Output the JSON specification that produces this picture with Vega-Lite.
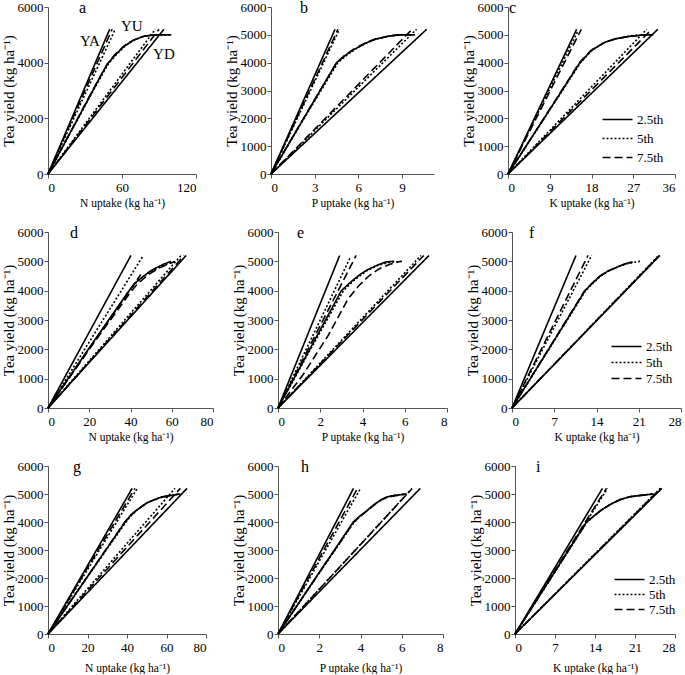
{
  "$schema": "https://vega.github.io/schema/vega-lite/v6.json",
  "padding": {"left": 1, "top": 0, "right": 0, "bottom": 0},
  "spacing": 16,
  "datasets": {
    "labels": [
      {"text": "YA", "x": 34, "y": 4780},
      {"text": "YU", "x": 68, "y": 5320},
      {"text": "YD", "x": 94, "y": 4310}
    ],
    "curves": [
      {"panel":"a","pct":"2.5th","curve":"YA","x":0,"y":0},{"panel":"a","pct":"2.5th","curve":"YA","x":50,"y":5200},
      {"panel":"a","pct":"5th","curve":"YA","x":0,"y":0},{"panel":"a","pct":"5th","curve":"YA","x":54,"y":5150},
      {"panel":"a","pct":"7.5th","curve":"YA","x":0,"y":0},{"panel":"a","pct":"7.5th","curve":"YA","x":52,"y":5200},
      {"panel":"a","pct":"2.5th","curve":"YD","x":0,"y":0},{"panel":"a","pct":"2.5th","curve":"YD","x":94,"y":5200},
      {"panel":"a","pct":"5th","curve":"YD","x":0,"y":0},{"panel":"a","pct":"5th","curve":"YD","x":87,"y":5200},
      {"panel":"a","pct":"7.5th","curve":"YD","x":0,"y":0},{"panel":"a","pct":"7.5th","curve":"YD","x":90,"y":5200},
      {"panel":"a","pct":"2.5th","curve":"YU","x":0,"y":0},{"panel":"a","pct":"2.5th","curve":"YU","x":20,"y":1650},{"panel":"a","pct":"2.5th","curve":"YU","x":40,"y":3300},{"panel":"a","pct":"2.5th","curve":"YU","x":48,"y":3950},{"panel":"a","pct":"2.5th","curve":"YU","x":55,"y":4300},{"panel":"a","pct":"2.5th","curve":"YU","x":62,"y":4600},{"panel":"a","pct":"2.5th","curve":"YU","x":70,"y":4820},{"panel":"a","pct":"2.5th","curve":"YU","x":78,"y":4950},{"panel":"a","pct":"2.5th","curve":"YU","x":86,"y":5000},{"panel":"a","pct":"2.5th","curve":"YU","x":100,"y":5000},
      {"panel":"a","pct":"5th","curve":"YU","x":0,"y":0},{"panel":"a","pct":"5th","curve":"YU","x":20,"y":1630},{"panel":"a","pct":"5th","curve":"YU","x":40,"y":3260},{"panel":"a","pct":"5th","curve":"YU","x":49,"y":3960},{"panel":"a","pct":"5th","curve":"YU","x":56,"y":4320},{"panel":"a","pct":"5th","curve":"YU","x":63,"y":4620},{"panel":"a","pct":"5th","curve":"YU","x":71,"y":4840},{"panel":"a","pct":"5th","curve":"YU","x":79,"y":4960},{"panel":"a","pct":"5th","curve":"YU","x":88,"y":5000},{"panel":"a","pct":"5th","curve":"YU","x":98,"y":5000},
      {"panel":"a","pct":"7.5th","curve":"YU","x":0,"y":0},{"panel":"a","pct":"7.5th","curve":"YU","x":20,"y":1660},{"panel":"a","pct":"7.5th","curve":"YU","x":40,"y":3320},{"panel":"a","pct":"7.5th","curve":"YU","x":48,"y":3940},{"panel":"a","pct":"7.5th","curve":"YU","x":54,"y":4280},{"panel":"a","pct":"7.5th","curve":"YU","x":61,"y":4580},{"panel":"a","pct":"7.5th","curve":"YU","x":69,"y":4810},{"panel":"a","pct":"7.5th","curve":"YU","x":77,"y":4940},{"panel":"a","pct":"7.5th","curve":"YU","x":85,"y":4990},{"panel":"a","pct":"7.5th","curve":"YU","x":96,"y":5000},

      {"panel":"b","pct":"2.5th","curve":"YA","x":0,"y":0},{"panel":"b","pct":"2.5th","curve":"YA","x":4.4,"y":5200},
      {"panel":"b","pct":"5th","curve":"YA","x":0,"y":0},{"panel":"b","pct":"5th","curve":"YA","x":4.7,"y":5200},
      {"panel":"b","pct":"7.5th","curve":"YA","x":0,"y":0},{"panel":"b","pct":"7.5th","curve":"YA","x":4.6,"y":5200},
      {"panel":"b","pct":"2.5th","curve":"YD","x":0,"y":0},{"panel":"b","pct":"2.5th","curve":"YD","x":10.7,"y":5200},
      {"panel":"b","pct":"5th","curve":"YD","x":0,"y":0},{"panel":"b","pct":"5th","curve":"YD","x":10.0,"y":5200},
      {"panel":"b","pct":"7.5th","curve":"YD","x":0,"y":0},{"panel":"b","pct":"7.5th","curve":"YD","x":9.7,"y":5200},
      {"panel":"b","pct":"2.5th","curve":"YU","x":0,"y":0},{"panel":"b","pct":"2.5th","curve":"YU","x":2,"y":1780},{"panel":"b","pct":"2.5th","curve":"YU","x":4.5,"y":4000},{"panel":"b","pct":"2.5th","curve":"YU","x":5.2,"y":4300},{"panel":"b","pct":"2.5th","curve":"YU","x":5.8,"y":4500},{"panel":"b","pct":"2.5th","curve":"YU","x":6.5,"y":4700},{"panel":"b","pct":"2.5th","curve":"YU","x":7.2,"y":4850},{"panel":"b","pct":"2.5th","curve":"YU","x":8.1,"y":4950},{"panel":"b","pct":"2.5th","curve":"YU","x":8.8,"y":5000},{"panel":"b","pct":"2.5th","curve":"YU","x":9.9,"y":5000},
      {"panel":"b","pct":"5th","curve":"YU","x":0,"y":0},{"panel":"b","pct":"5th","curve":"YU","x":2,"y":1760},{"panel":"b","pct":"5th","curve":"YU","x":4.6,"y":4000},{"panel":"b","pct":"5th","curve":"YU","x":5.3,"y":4310},{"panel":"b","pct":"5th","curve":"YU","x":5.9,"y":4520},{"panel":"b","pct":"5th","curve":"YU","x":6.6,"y":4720},{"panel":"b","pct":"5th","curve":"YU","x":7.3,"y":4860},{"panel":"b","pct":"5th","curve":"YU","x":8.2,"y":4960},{"panel":"b","pct":"5th","curve":"YU","x":9.0,"y":5000},{"panel":"b","pct":"5th","curve":"YU","x":9.6,"y":5000},
      {"panel":"b","pct":"7.5th","curve":"YU","x":0,"y":0},{"panel":"b","pct":"7.5th","curve":"YU","x":2,"y":1790},{"panel":"b","pct":"7.5th","curve":"YU","x":4.5,"y":3990},{"panel":"b","pct":"7.5th","curve":"YU","x":5.1,"y":4280},{"panel":"b","pct":"7.5th","curve":"YU","x":5.7,"y":4490},{"panel":"b","pct":"7.5th","curve":"YU","x":6.4,"y":4690},{"panel":"b","pct":"7.5th","curve":"YU","x":7.1,"y":4840},{"panel":"b","pct":"7.5th","curve":"YU","x":8.0,"y":4950},{"panel":"b","pct":"7.5th","curve":"YU","x":8.7,"y":5000},{"panel":"b","pct":"7.5th","curve":"YU","x":9.4,"y":5000},

      {"panel":"c","pct":"2.5th","curve":"YA","x":0,"y":0},{"panel":"c","pct":"2.5th","curve":"YA","x":14.8,"y":5200},
      {"panel":"c","pct":"5th","curve":"YA","x":0,"y":0},{"panel":"c","pct":"5th","curve":"YA","x":15.1,"y":5150},
      {"panel":"c","pct":"7.5th","curve":"YA","x":0,"y":0},{"panel":"c","pct":"7.5th","curve":"YA","x":15.8,"y":5200},
      {"panel":"c","pct":"2.5th","curve":"YD","x":0,"y":0},{"panel":"c","pct":"2.5th","curve":"YD","x":32.3,"y":5200},
      {"panel":"c","pct":"5th","curve":"YD","x":0,"y":0},{"panel":"c","pct":"5th","curve":"YD","x":29.9,"y":5200},
      {"panel":"c","pct":"7.5th","curve":"YD","x":0,"y":0},{"panel":"c","pct":"7.5th","curve":"YD","x":31.0,"y":5200},
      {"panel":"c","pct":"2.5th","curve":"YU","x":0,"y":0},{"panel":"c","pct":"2.5th","curve":"YU","x":8,"y":2060},{"panel":"c","pct":"2.5th","curve":"YU","x":15.5,"y":4000},{"panel":"c","pct":"2.5th","curve":"YU","x":18,"y":4450},{"panel":"c","pct":"2.5th","curve":"YU","x":20.9,"y":4730},{"panel":"c","pct":"2.5th","curve":"YU","x":23,"y":4850},{"panel":"c","pct":"2.5th","curve":"YU","x":26.6,"y":4960},{"panel":"c","pct":"2.5th","curve":"YU","x":30.2,"y":5000},{"panel":"c","pct":"2.5th","curve":"YU","x":31.3,"y":5000},
      {"panel":"c","pct":"5th","curve":"YU","x":0,"y":0},{"panel":"c","pct":"5th","curve":"YU","x":8,"y":2040},{"panel":"c","pct":"5th","curve":"YU","x":15.6,"y":3990},{"panel":"c","pct":"5th","curve":"YU","x":18.2,"y":4460},{"panel":"c","pct":"5th","curve":"YU","x":21,"y":4740},{"panel":"c","pct":"5th","curve":"YU","x":23.2,"y":4860},{"panel":"c","pct":"5th","curve":"YU","x":26.8,"y":4970},{"panel":"c","pct":"5th","curve":"YU","x":30,"y":5000},
      {"panel":"c","pct":"7.5th","curve":"YU","x":0,"y":0},{"panel":"c","pct":"7.5th","curve":"YU","x":8,"y":2070},{"panel":"c","pct":"7.5th","curve":"YU","x":15.4,"y":4000},{"panel":"c","pct":"7.5th","curve":"YU","x":17.9,"y":4440},{"panel":"c","pct":"7.5th","curve":"YU","x":20.7,"y":4720},{"panel":"c","pct":"7.5th","curve":"YU","x":22.8,"y":4840},{"panel":"c","pct":"7.5th","curve":"YU","x":26.4,"y":4950},{"panel":"c","pct":"7.5th","curve":"YU","x":29.6,"y":5000},

      {"panel":"d","pct":"2.5th","curve":"YA","x":0,"y":0},{"panel":"d","pct":"2.5th","curve":"YA","x":40.2,"y":5200},
      {"panel":"d","pct":"5th","curve":"YA","x":0,"y":0},{"panel":"d","pct":"5th","curve":"YA","x":46.2,"y":5200},
      {"panel":"d","pct":"7.5th","curve":"YA","x":0,"y":0},{"panel":"d","pct":"7.5th","curve":"YA","x":45,"y":4550},
      {"panel":"d","pct":"2.5th","curve":"YD","x":0,"y":0},{"panel":"d","pct":"2.5th","curve":"YD","x":67,"y":5200},
      {"panel":"d","pct":"5th","curve":"YD","x":0,"y":0},{"panel":"d","pct":"5th","curve":"YD","x":64.5,"y":5200},
      {"panel":"d","pct":"7.5th","curve":"YD","x":0,"y":0},{"panel":"d","pct":"7.5th","curve":"YD","x":66,"y":5200},
      {"panel":"d","pct":"2.5th","curve":"YU","x":0,"y":0},{"panel":"d","pct":"2.5th","curve":"YU","x":20,"y":2050},{"panel":"d","pct":"2.5th","curve":"YU","x":38.8,"y":3950},{"panel":"d","pct":"2.5th","curve":"YU","x":42,"y":4250},{"panel":"d","pct":"2.5th","curve":"YU","x":45.2,"y":4430},{"panel":"d","pct":"2.5th","curve":"YU","x":49,"y":4640},{"panel":"d","pct":"2.5th","curve":"YU","x":52.2,"y":4770},{"panel":"d","pct":"2.5th","curve":"YU","x":56,"y":4900},{"panel":"d","pct":"2.5th","curve":"YU","x":59.6,"y":5000},
      {"panel":"d","pct":"5th","curve":"YU","x":0,"y":0},{"panel":"d","pct":"5th","curve":"YU","x":20,"y":2030},{"panel":"d","pct":"5th","curve":"YU","x":39,"y":3950},{"panel":"d","pct":"5th","curve":"YU","x":42.5,"y":4260},{"panel":"d","pct":"5th","curve":"YU","x":46,"y":4460},{"panel":"d","pct":"5th","curve":"YU","x":50,"y":4660},{"panel":"d","pct":"5th","curve":"YU","x":54,"y":4800},{"panel":"d","pct":"5th","curve":"YU","x":58,"y":4920},{"panel":"d","pct":"5th","curve":"YU","x":62,"y":5000},
      {"panel":"d","pct":"7.5th","curve":"YU","x":0,"y":0},{"panel":"d","pct":"7.5th","curve":"YU","x":20,"y":2000},{"panel":"d","pct":"7.5th","curve":"YU","x":39.5,"y":3900},{"panel":"d","pct":"7.5th","curve":"YU","x":43,"y":4200},{"panel":"d","pct":"7.5th","curve":"YU","x":46.5,"y":4420},{"panel":"d","pct":"7.5th","curve":"YU","x":50.5,"y":4630},{"panel":"d","pct":"7.5th","curve":"YU","x":54.5,"y":4790},{"panel":"d","pct":"7.5th","curve":"YU","x":58.5,"y":4910},{"panel":"d","pct":"7.5th","curve":"YU","x":61,"y":4980},

      {"panel":"e","pct":"2.5th","curve":"YA","x":0,"y":0},{"panel":"e","pct":"2.5th","curve":"YA","x":2.92,"y":5200},
      {"panel":"e","pct":"5th","curve":"YA","x":0,"y":0},{"panel":"e","pct":"5th","curve":"YA","x":3.4,"y":5100},
      {"panel":"e","pct":"7.5th","curve":"YA","x":0,"y":0},{"panel":"e","pct":"7.5th","curve":"YA","x":3.7,"y":5200},
      {"panel":"e","pct":"2.5th","curve":"YD","x":0,"y":0},{"panel":"e","pct":"2.5th","curve":"YD","x":7.15,"y":5200},
      {"panel":"e","pct":"5th","curve":"YD","x":0,"y":0},{"panel":"e","pct":"5th","curve":"YD","x":6.77,"y":5200},
      {"panel":"e","pct":"7.5th","curve":"YD","x":0,"y":0},{"panel":"e","pct":"7.5th","curve":"YD","x":6.9,"y":5200},
      {"panel":"e","pct":"2.5th","curve":"YU","x":0,"y":0},{"panel":"e","pct":"2.5th","curve":"YU","x":1.5,"y":2000},{"panel":"e","pct":"2.5th","curve":"YU","x":3.0,"y":4000},{"panel":"e","pct":"2.5th","curve":"YU","x":3.3,"y":4200},{"panel":"e","pct":"2.5th","curve":"YU","x":3.55,"y":4360},{"panel":"e","pct":"2.5th","curve":"YU","x":3.9,"y":4560},{"panel":"e","pct":"2.5th","curve":"YU","x":4.2,"y":4700},{"panel":"e","pct":"2.5th","curve":"YU","x":4.7,"y":4870},{"panel":"e","pct":"2.5th","curve":"YU","x":5.1,"y":4980},{"panel":"e","pct":"2.5th","curve":"YU","x":5.5,"y":5000},
      {"panel":"e","pct":"5th","curve":"YU","x":0,"y":0},{"panel":"e","pct":"5th","curve":"YU","x":1.5,"y":1950},{"panel":"e","pct":"5th","curve":"YU","x":3.1,"y":4000},{"panel":"e","pct":"5th","curve":"YU","x":3.6,"y":4350},{"panel":"e","pct":"5th","curve":"YU","x":4.2,"y":4680},{"panel":"e","pct":"5th","curve":"YU","x":4.8,"y":4880},{"panel":"e","pct":"5th","curve":"YU","x":5.3,"y":4970},{"panel":"e","pct":"5th","curve":"YU","x":5.9,"y":5000},
      {"panel":"e","pct":"7.5th","curve":"YU","x":0,"y":0},{"panel":"e","pct":"7.5th","curve":"YU","x":1.2,"y":1150},{"panel":"e","pct":"7.5th","curve":"YU","x":2.4,"y":2500},{"panel":"e","pct":"7.5th","curve":"YU","x":3.3,"y":3700},{"panel":"e","pct":"7.5th","curve":"YU","x":3.8,"y":4150},{"panel":"e","pct":"7.5th","curve":"YU","x":4.3,"y":4500},{"panel":"e","pct":"7.5th","curve":"YU","x":4.8,"y":4750},{"panel":"e","pct":"7.5th","curve":"YU","x":5.3,"y":4900},{"panel":"e","pct":"7.5th","curve":"YU","x":5.8,"y":5000},

      {"panel":"f","pct":"2.5th","curve":"YA","x":0,"y":0},{"panel":"f","pct":"2.5th","curve":"YA","x":10.6,"y":5200},
      {"panel":"f","pct":"5th","curve":"YA","x":0,"y":0},{"panel":"f","pct":"5th","curve":"YA","x":13.2,"y":5200},
      {"panel":"f","pct":"7.5th","curve":"YA","x":0,"y":0},{"panel":"f","pct":"7.5th","curve":"YA","x":12.6,"y":5200},
      {"panel":"f","pct":"2.5th","curve":"YD","x":0,"y":0},{"panel":"f","pct":"2.5th","curve":"YD","x":24.5,"y":5200},
      {"panel":"f","pct":"5th","curve":"YD","x":0,"y":0},{"panel":"f","pct":"5th","curve":"YD","x":24.3,"y":5200},
      {"panel":"f","pct":"7.5th","curve":"YD","x":0,"y":0},{"panel":"f","pct":"7.5th","curve":"YD","x":24.4,"y":5200},
      {"panel":"f","pct":"2.5th","curve":"YU","x":0,"y":0},{"panel":"f","pct":"2.5th","curve":"YU","x":6,"y":1980},{"panel":"f","pct":"2.5th","curve":"YU","x":12.1,"y":4000},{"panel":"f","pct":"2.5th","curve":"YU","x":13.3,"y":4250},{"panel":"f","pct":"2.5th","curve":"YU","x":14.6,"y":4500},{"panel":"f","pct":"2.5th","curve":"YU","x":16,"y":4680},{"panel":"f","pct":"2.5th","curve":"YU","x":17.6,"y":4820},{"panel":"f","pct":"2.5th","curve":"YU","x":18.8,"y":4920},{"panel":"f","pct":"2.5th","curve":"YU","x":20,"y":4980},
      {"panel":"f","pct":"5th","curve":"YU","x":0,"y":0},{"panel":"f","pct":"5th","curve":"YU","x":6,"y":1960},{"panel":"f","pct":"5th","curve":"YU","x":12.2,"y":4000},{"panel":"f","pct":"5th","curve":"YU","x":13.5,"y":4270},{"panel":"f","pct":"5th","curve":"YU","x":14.8,"y":4520},{"panel":"f","pct":"5th","curve":"YU","x":16.3,"y":4700},{"panel":"f","pct":"5th","curve":"YU","x":17.9,"y":4840},{"panel":"f","pct":"5th","curve":"YU","x":19.5,"y":4940},{"panel":"f","pct":"5th","curve":"YU","x":21.2,"y":5000},
      {"panel":"f","pct":"7.5th","curve":"YU","x":0,"y":0},{"panel":"f","pct":"7.5th","curve":"YU","x":6,"y":1990},{"panel":"f","pct":"7.5th","curve":"YU","x":12,"y":3990},{"panel":"f","pct":"7.5th","curve":"YU","x":13.2,"y":4240},{"panel":"f","pct":"7.5th","curve":"YU","x":14.5,"y":4490},{"panel":"f","pct":"7.5th","curve":"YU","x":15.9,"y":4670},{"panel":"f","pct":"7.5th","curve":"YU","x":17.5,"y":4810},{"panel":"f","pct":"7.5th","curve":"YU","x":18.7,"y":4910},{"panel":"f","pct":"7.5th","curve":"YU","x":19.8,"y":4960},

      {"panel":"g","pct":"2.5th","curve":"YA","x":0,"y":0},{"panel":"g","pct":"2.5th","curve":"YA","x":42.6,"y":5200},
      {"panel":"g","pct":"5th","curve":"YA","x":0,"y":0},{"panel":"g","pct":"5th","curve":"YA","x":45.2,"y":5200},
      {"panel":"g","pct":"7.5th","curve":"YA","x":0,"y":0},{"panel":"g","pct":"7.5th","curve":"YA","x":44,"y":5200},
      {"panel":"g","pct":"2.5th","curve":"YD","x":0,"y":0},{"panel":"g","pct":"2.5th","curve":"YD","x":70.4,"y":5200},
      {"panel":"g","pct":"5th","curve":"YD","x":0,"y":0},{"panel":"g","pct":"5th","curve":"YD","x":64.3,"y":5200},
      {"panel":"g","pct":"7.5th","curve":"YD","x":0,"y":0},{"panel":"g","pct":"7.5th","curve":"YD","x":67,"y":5200},
      {"panel":"g","pct":"2.5th","curve":"YU","x":0,"y":0},{"panel":"g","pct":"2.5th","curve":"YU","x":20,"y":2050},{"panel":"g","pct":"2.5th","curve":"YU","x":39,"y":4000},{"panel":"g","pct":"2.5th","curve":"YU","x":42,"y":4250},{"panel":"g","pct":"2.5th","curve":"YU","x":45,"y":4430},{"panel":"g","pct":"2.5th","curve":"YU","x":50,"y":4680},{"panel":"g","pct":"2.5th","curve":"YU","x":54,"y":4800},{"panel":"g","pct":"2.5th","curve":"YU","x":58,"y":4900},{"panel":"g","pct":"2.5th","curve":"YU","x":62.6,"y":4950},{"panel":"g","pct":"2.5th","curve":"YU","x":67,"y":5000},
      {"panel":"g","pct":"5th","curve":"YU","x":0,"y":0},{"panel":"g","pct":"5th","curve":"YU","x":20,"y":2040},{"panel":"g","pct":"5th","curve":"YU","x":39.5,"y":4000},{"panel":"g","pct":"5th","curve":"YU","x":42.5,"y":4260},{"panel":"g","pct":"5th","curve":"YU","x":45.5,"y":4450},{"panel":"g","pct":"5th","curve":"YU","x":50.5,"y":4700},{"panel":"g","pct":"5th","curve":"YU","x":54.5,"y":4820},{"panel":"g","pct":"5th","curve":"YU","x":58.5,"y":4910},{"panel":"g","pct":"5th","curve":"YU","x":63,"y":4960},{"panel":"g","pct":"5th","curve":"YU","x":66,"y":5000},
      {"panel":"g","pct":"7.5th","curve":"YU","x":0,"y":0},{"panel":"g","pct":"7.5th","curve":"YU","x":20,"y":2060},{"panel":"g","pct":"7.5th","curve":"YU","x":38.8,"y":3990},{"panel":"g","pct":"7.5th","curve":"YU","x":41.8,"y":4240},{"panel":"g","pct":"7.5th","curve":"YU","x":44.8,"y":4420},{"panel":"g","pct":"7.5th","curve":"YU","x":49.8,"y":4670},{"panel":"g","pct":"7.5th","curve":"YU","x":53.8,"y":4790},{"panel":"g","pct":"7.5th","curve":"YU","x":57.8,"y":4890},{"panel":"g","pct":"7.5th","curve":"YU","x":62.4,"y":4940},{"panel":"g","pct":"7.5th","curve":"YU","x":65,"y":4980},

      {"panel":"h","pct":"2.5th","curve":"YA","x":0,"y":0},{"panel":"h","pct":"2.5th","curve":"YA","x":3.66,"y":5200},
      {"panel":"h","pct":"5th","curve":"YA","x":0,"y":0},{"panel":"h","pct":"5th","curve":"YA","x":4.0,"y":5200},
      {"panel":"h","pct":"7.5th","curve":"YA","x":0,"y":0},{"panel":"h","pct":"7.5th","curve":"YA","x":3.85,"y":5200},
      {"panel":"h","pct":"2.5th","curve":"YD","x":0,"y":0},{"panel":"h","pct":"2.5th","curve":"YD","x":6.9,"y":5200},
      {"panel":"h","pct":"5th","curve":"YD","x":0,"y":0},{"panel":"h","pct":"5th","curve":"YD","x":6.5,"y":5200},
      {"panel":"h","pct":"7.5th","curve":"YD","x":0,"y":0},{"panel":"h","pct":"7.5th","curve":"YD","x":6.45,"y":5150},
      {"panel":"h","pct":"2.5th","curve":"YU","x":0,"y":0},{"panel":"h","pct":"2.5th","curve":"YU","x":2,"y":2200},{"panel":"h","pct":"2.5th","curve":"YU","x":3.65,"y":4000},{"panel":"h","pct":"2.5th","curve":"YU","x":3.95,"y":4200},{"panel":"h","pct":"2.5th","curve":"YU","x":4.3,"y":4400},{"panel":"h","pct":"2.5th","curve":"YU","x":4.65,"y":4620},{"panel":"h","pct":"2.5th","curve":"YU","x":5.0,"y":4800},{"panel":"h","pct":"2.5th","curve":"YU","x":5.3,"y":4900},{"panel":"h","pct":"2.5th","curve":"YU","x":5.67,"y":4950},{"panel":"h","pct":"2.5th","curve":"YU","x":6.25,"y":5000},
      {"panel":"h","pct":"5th","curve":"YU","x":0,"y":0},{"panel":"h","pct":"5th","curve":"YU","x":2,"y":2180},{"panel":"h","pct":"5th","curve":"YU","x":3.7,"y":4000},{"panel":"h","pct":"5th","curve":"YU","x":4.0,"y":4210},{"panel":"h","pct":"5th","curve":"YU","x":4.35,"y":4420},{"panel":"h","pct":"5th","curve":"YU","x":4.7,"y":4640},{"panel":"h","pct":"5th","curve":"YU","x":5.05,"y":4810},{"panel":"h","pct":"5th","curve":"YU","x":5.35,"y":4910},{"panel":"h","pct":"5th","curve":"YU","x":5.7,"y":4960},{"panel":"h","pct":"5th","curve":"YU","x":6.1,"y":5000},
      {"panel":"h","pct":"7.5th","curve":"YU","x":0,"y":0},{"panel":"h","pct":"7.5th","curve":"YU","x":2,"y":2190},{"panel":"h","pct":"7.5th","curve":"YU","x":3.67,"y":3990},{"panel":"h","pct":"7.5th","curve":"YU","x":3.97,"y":4190},{"panel":"h","pct":"7.5th","curve":"YU","x":4.32,"y":4400},{"panel":"h","pct":"7.5th","curve":"YU","x":4.67,"y":4610},{"panel":"h","pct":"7.5th","curve":"YU","x":5.02,"y":4790},{"panel":"h","pct":"7.5th","curve":"YU","x":5.32,"y":4890},{"panel":"h","pct":"7.5th","curve":"YU","x":5.7,"y":4940},{"panel":"h","pct":"7.5th","curve":"YU","x":6.2,"y":4990},

      {"panel":"i","pct":"2.5th","curve":"YA","x":0,"y":0},{"panel":"i","pct":"2.5th","curve":"YA","x":15.3,"y":5200},
      {"panel":"i","pct":"5th","curve":"YA","x":0,"y":0},{"panel":"i","pct":"5th","curve":"YA","x":16.2,"y":5200},
      {"panel":"i","pct":"7.5th","curve":"YA","x":0,"y":0},{"panel":"i","pct":"7.5th","curve":"YA","x":16.0,"y":5200},
      {"panel":"i","pct":"2.5th","curve":"YD","x":0,"y":0},{"panel":"i","pct":"2.5th","curve":"YD","x":25.7,"y":5200},
      {"panel":"i","pct":"5th","curve":"YD","x":0,"y":0},{"panel":"i","pct":"5th","curve":"YD","x":25.4,"y":5200},
      {"panel":"i","pct":"7.5th","curve":"YD","x":0,"y":0},{"panel":"i","pct":"7.5th","curve":"YD","x":25.5,"y":5200},
      {"panel":"i","pct":"2.5th","curve":"YU","x":0,"y":0},{"panel":"i","pct":"2.5th","curve":"YU","x":6,"y":1920},{"panel":"i","pct":"2.5th","curve":"YU","x":12.5,"y":4000},{"panel":"i","pct":"2.5th","curve":"YU","x":13.7,"y":4200},{"panel":"i","pct":"2.5th","curve":"YU","x":14.9,"y":4400},{"panel":"i","pct":"2.5th","curve":"YU","x":16.6,"y":4620},{"panel":"i","pct":"2.5th","curve":"YU","x":18.4,"y":4800},{"panel":"i","pct":"2.5th","curve":"YU","x":20.1,"y":4900},{"panel":"i","pct":"2.5th","curve":"YU","x":22,"y":4950},{"panel":"i","pct":"2.5th","curve":"YU","x":24.2,"y":5000},
      {"panel":"i","pct":"5th","curve":"YU","x":0,"y":0},{"panel":"i","pct":"5th","curve":"YU","x":6,"y":1900},{"panel":"i","pct":"5th","curve":"YU","x":12.6,"y":4000},{"panel":"i","pct":"5th","curve":"YU","x":13.8,"y":4210},{"panel":"i","pct":"5th","curve":"YU","x":15,"y":4410},{"panel":"i","pct":"5th","curve":"YU","x":16.7,"y":4630},{"panel":"i","pct":"5th","curve":"YU","x":18.5,"y":4810},{"panel":"i","pct":"5th","curve":"YU","x":20.2,"y":4910},{"panel":"i","pct":"5th","curve":"YU","x":22.2,"y":4960},{"panel":"i","pct":"5th","curve":"YU","x":24,"y":5000},
      {"panel":"i","pct":"7.5th","curve":"YU","x":0,"y":0},{"panel":"i","pct":"7.5th","curve":"YU","x":6,"y":1910},{"panel":"i","pct":"7.5th","curve":"YU","x":12.55,"y":4000},{"panel":"i","pct":"7.5th","curve":"YU","x":13.75,"y":4200},{"panel":"i","pct":"7.5th","curve":"YU","x":14.95,"y":4400},{"panel":"i","pct":"7.5th","curve":"YU","x":16.65,"y":4620},{"panel":"i","pct":"7.5th","curve":"YU","x":18.45,"y":4800},{"panel":"i","pct":"7.5th","curve":"YU","x":20.15,"y":4900},{"panel":"i","pct":"7.5th","curve":"YU","x":22.1,"y":4950},{"panel":"i","pct":"7.5th","curve":"YU","x":24.1,"y":4990}
    ]
  },
  "resolve": {"scale": {"strokeDash": "independent"}, "legend": {"strokeDash": "independent"}},
  "vconcat": [
    {
      "spacing": 27,
      "resolve": {"scale": {"strokeDash": "independent"}, "legend": {"strokeDash": "independent"}},
      "hconcat": [
        {
          "width": 148, "height": 167,
          "title": {"text": "a", "dx": 31},
          "layer": [
            {
              "data": {"name": "curves"},
              "transform": [{"filter": "datum.panel === 'a'"}],
              "mark": "line",
              "encoding": {
                "x": {"field": "x", "type": "quantitative", "scale": {"domain": [0, 120], "nice": false}, "axis": {"values": [0, 30, 60, 90, 120], "title": "N uptake (kg ha⁻¹)"}},
                "y": {"field": "y", "type": "quantitative", "scale": {"domain": [0, 6000], "nice": false}, "axis": {"values": [0, 1000, 2000, 3000, 4000, 5000, 6000], "title": "Tea yield (kg ha⁻¹)"}},
                "strokeDash": {"field": "pct", "type": "nominal", "scale": {"domain": ["2.5th", "5th", "7.5th"], "range": [[1, 0], [2, 2], [8, 4]]}, "legend": null},
                "detail": {"field": "curve"}
              }
            },
            {
              "data": {"name": "labels"},
              "mark": {"type": "text", "fontSize": 15, "font": "Liberation Serif", "color": "#000"},
              "encoding": {
                "x": {"field": "x", "type": "quantitative"},
                "y": {"field": "y", "type": "quantitative"},
                "text": {"field": "text"}
              }
            }
          ]
        },
        {
          "width": 163, "height": 167,
          "title": {"text": "b", "dx": 29},
          "data": {"name": "curves"},
          "transform": [{"filter": "datum.panel === 'b'"}],
          "mark": "line",
          "encoding": {
            "x": {"field": "x", "type": "quantitative", "scale": {"domain": [0, 11.2], "nice": false}, "axis": {"values": [0, 3, 6, 9], "title": "P uptake (kg ha⁻¹)"}},
            "y": {"field": "y", "type": "quantitative", "scale": {"domain": [0, 6000], "nice": false}, "axis": {"values": [0, 1000, 2000, 3000, 4000, 5000, 6000], "title": "Tea yield (kg ha⁻¹)"}},
            "strokeDash": {"field": "pct", "type": "nominal", "scale": {"domain": ["2.5th", "5th", "7.5th"], "range": [[1, 0], [2, 2], [8, 4]]}, "legend": null},
            "detail": {"field": "curve"}
          }
        },
        {
          "width": 167, "height": 167,
          "title": {"text": "c", "dx": 1},
          "data": {"name": "curves"},
          "transform": [{"filter": "datum.panel === 'c'"}],
          "mark": "line",
          "encoding": {
            "x": {"field": "x", "type": "quantitative", "scale": {"domain": [0, 36], "nice": false}, "axis": {"values": [0, 9, 18, 27, 36], "title": "K uptake (kg ha⁻¹)"}},
            "y": {"field": "y", "type": "quantitative", "scale": {"domain": [0, 6000], "nice": false}, "axis": {"values": [0, 1000, 2000, 3000, 4000, 5000, 6000], "title": "Tea yield (kg ha⁻¹)"}},
            "strokeDash": {"field": "pct", "type": "nominal", "scale": {"domain": ["2.5th", "5th", "7.5th"], "range": [[1, 0], [2, 2], [8, 4]]}, "legend": {"title": null, "orient": "none", "legendX": 103, "legendY": 106, "rowPadding": 5}},
            "detail": {"field": "curve"}
          }
        }
      ]
    },
    {
      "spacing": 17,
      "resolve": {"scale": {"strokeDash": "independent"}, "legend": {"strokeDash": "independent"}},
      "hconcat": [
        {
          "width": 165, "height": 176,
          "title": {"text": "d", "dx": 22},
          "data": {"name": "curves"},
          "transform": [{"filter": "datum.panel === 'd'"}],
          "mark": "line",
          "encoding": {
            "x": {"field": "x", "type": "quantitative", "scale": {"domain": [0, 80], "nice": false}, "axis": {"values": [0, 20, 40, 60, 80], "title": "N uptake (kg ha⁻¹)"}},
            "y": {"field": "y", "type": "quantitative", "scale": {"domain": [0, 6000], "nice": false}, "axis": {"values": [0, 1000, 2000, 3000, 4000, 5000, 6000], "title": "Tea yield (kg ha⁻¹)"}},
            "strokeDash": {"field": "pct", "type": "nominal", "scale": {"domain": ["2.5th", "5th", "7.5th"], "range": [[1, 0], [2, 2], [8, 4]]}, "legend": null},
            "detail": {"field": "curve"}
          }
        },
        {
          "width": 169, "height": 176,
          "title": {"text": "e", "dx": 19},
          "data": {"name": "curves"},
          "transform": [{"filter": "datum.panel === 'e'"}],
          "mark": "line",
          "encoding": {
            "x": {"field": "x", "type": "quantitative", "scale": {"domain": [0, 8], "nice": false}, "axis": {"values": [0, 2, 4, 6, 8], "title": "P uptake (kg ha⁻¹)"}},
            "y": {"field": "y", "type": "quantitative", "scale": {"domain": [0, 6000], "nice": false}, "axis": {"values": [0, 1000, 2000, 3000, 4000, 5000, 6000], "title": "Tea yield (kg ha⁻¹)"}},
            "strokeDash": {"field": "pct", "type": "nominal", "scale": {"domain": ["2.5th", "5th", "7.5th"], "range": [[1, 0], [2, 2], [8, 4]]}, "legend": null},
            "detail": {"field": "curve"}
          }
        },
        {
          "width": 169, "height": 176,
          "title": {"text": "f", "dx": 17},
          "data": {"name": "curves"},
          "transform": [{"filter": "datum.panel === 'f'"}],
          "mark": "line",
          "encoding": {
            "x": {"field": "x", "type": "quantitative", "scale": {"domain": [0, 28], "nice": false}, "axis": {"values": [0, 7, 14, 21, 28], "title": "K uptake (kg ha⁻¹)"}},
            "y": {"field": "y", "type": "quantitative", "scale": {"domain": [0, 6000], "nice": false}, "axis": {"values": [0, 1000, 2000, 3000, 4000, 5000, 6000], "title": "Tea yield (kg ha⁻¹)"}},
            "strokeDash": {"field": "pct", "type": "nominal", "scale": {"domain": ["2.5th", "5th", "7.5th"], "range": [[1, 0], [2, 2], [8, 4]]}, "legend": {"title": null, "orient": "none", "legendX": 108, "legendY": 108, "rowPadding": 2}},
            "detail": {"field": "curve"}
          }
        }
      ]
    },
    {
      "spacing": 24,
      "resolve": {"scale": {"strokeDash": "independent"}, "legend": {"strokeDash": "independent"}},
      "hconcat": [
        {
          "width": 158, "height": 168,
          "title": {"text": "g", "dx": 25},
          "data": {"name": "curves"},
          "transform": [{"filter": "datum.panel === 'g'"}],
          "mark": "line",
          "encoding": {
            "x": {"field": "x", "type": "quantitative", "scale": {"domain": [0, 80], "nice": false}, "axis": {"values": [0, 20, 40, 60, 80], "title": "N uptake (kg ha⁻¹)", "titlePadding": 8}},
            "y": {"field": "y", "type": "quantitative", "scale": {"domain": [0, 6000], "nice": false}, "axis": {"values": [0, 1000, 2000, 3000, 4000, 5000, 6000], "title": "Tea yield (kg ha⁻¹)"}},
            "strokeDash": {"field": "pct", "type": "nominal", "scale": {"domain": ["2.5th", "5th", "7.5th"], "range": [[1, 0], [2, 2], [8, 4]]}, "legend": null},
            "detail": {"field": "curve"}
          }
        },
        {
          "width": 165, "height": 168,
          "title": {"text": "h", "dx": 23},
          "data": {"name": "curves"},
          "transform": [{"filter": "datum.panel === 'h'"}],
          "mark": "line",
          "encoding": {
            "x": {"field": "x", "type": "quantitative", "scale": {"domain": [0, 8], "nice": false}, "axis": {"values": [0, 2, 4, 6, 8], "title": "P uptake (kg ha⁻¹)", "titlePadding": 8}},
            "y": {"field": "y", "type": "quantitative", "scale": {"domain": [0, 6000], "nice": false}, "axis": {"values": [0, 1000, 2000, 3000, 4000, 5000, 6000], "title": "Tea yield (kg ha⁻¹)"}},
            "strokeDash": {"field": "pct", "type": "nominal", "scale": {"domain": ["2.5th", "5th", "7.5th"], "range": [[1, 0], [2, 2], [8, 4]]}, "legend": null},
            "detail": {"field": "curve"}
          }
        },
        {
          "width": 160, "height": 168,
          "title": {"text": "i", "dx": 21},
          "data": {"name": "curves"},
          "transform": [{"filter": "datum.panel === 'i'"}],
          "mark": "line",
          "encoding": {
            "x": {"field": "x", "type": "quantitative", "scale": {"domain": [0, 28], "nice": false}, "axis": {"values": [0, 7, 14, 21, 28], "title": "K uptake (kg ha⁻¹)", "titlePadding": 8}},
            "y": {"field": "y", "type": "quantitative", "scale": {"domain": [0, 6000], "nice": false}, "axis": {"values": [0, 1000, 2000, 3000, 4000, 5000, 6000], "title": "Tea yield (kg ha⁻¹)"}},
            "strokeDash": {"field": "pct", "type": "nominal", "scale": {"domain": ["2.5th", "5th", "7.5th"], "range": [[1, 0], [2, 2], [8, 4]]}, "legend": {"title": null, "orient": "none", "legendX": 108, "legendY": 107, "rowPadding": 1}},
            "detail": {"field": "curve"}
          }
        }
      ]
    }
  ],
  "config": {
    "font": "Liberation Serif",
    "view": {"stroke": null},
    "line": {"color": "#000", "strokeWidth": 1.6},
    "axis": {"grid": false, "labelFontSize": 13, "labelColor": "#000", "titleColor": "#000", "titleFontWeight": "normal", "domainColor": "#555", "tickColor": "#555", "tickSize": 4},
    "axisX": {"titleFontSize": 11.5, "labelPadding": 3, "titlePadding": 3},
    "axisY": {"titleFontSize": 15, "titlePadding": 1, "labelPadding": 1, "format": "d"},
    "title": {"anchor": "start", "frame": "group", "offset": -5, "dy": 10, "baseline": "alphabetic", "fontSize": 16, "fontWeight": "normal", "color": "#000"},
    "legend": {"padding": 0, "labelFontSize": 13, "labelColor": "#000", "symbolType": "M-3,0H3", "symbolSize": 100, "symbolStrokeWidth": 2, "symbolStrokeColor": "#000", "symbolFillColor": "transparent", "labelOffset": 13}
  }
}
